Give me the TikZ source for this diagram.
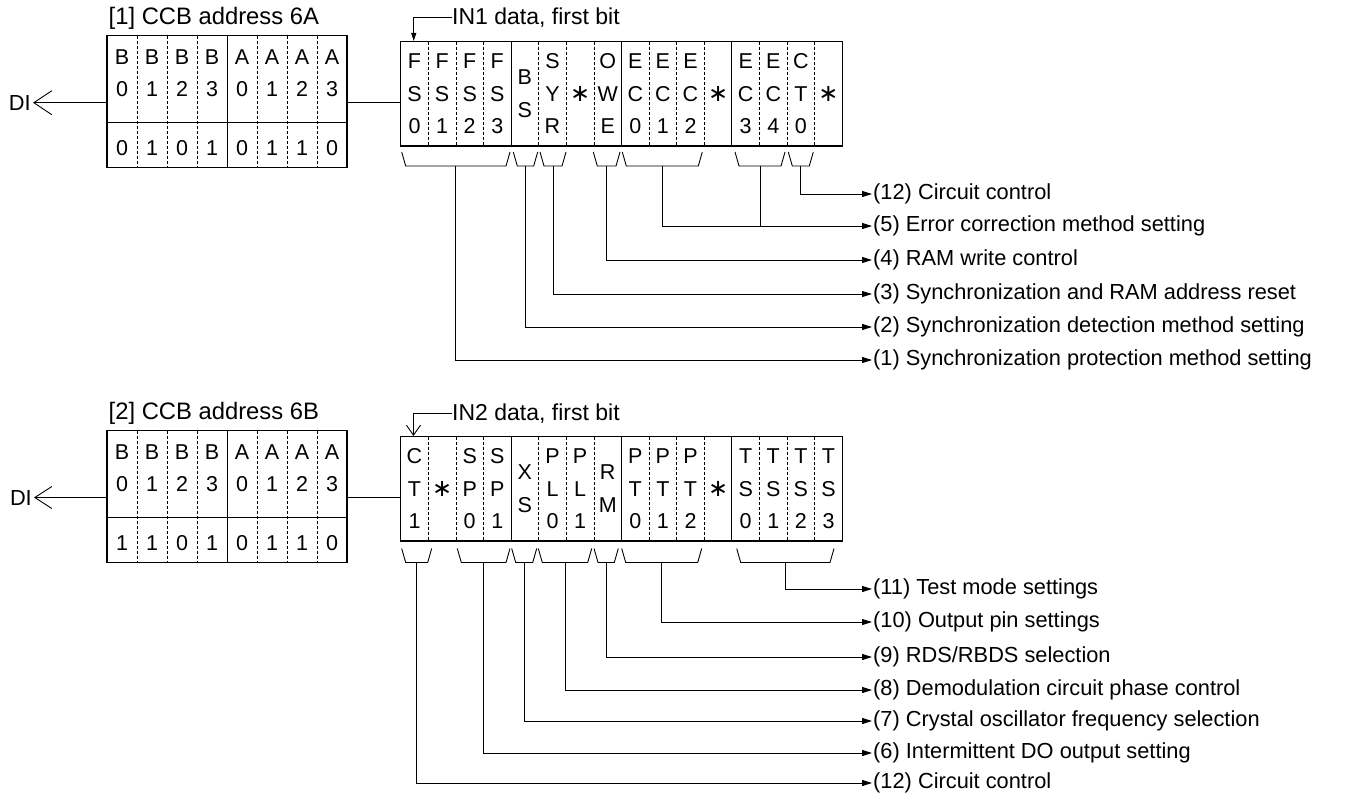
\documentclass[tikz,border=0pt]{standalone}
\usepackage{fontspec}
\setmainfont{Liberation Sans}
\newfontfamily\symfont{DejaVu Sans}
\usetikzlibrary{arrows.meta}
\newcommand{\nobit}{{\symfont\fontsize{24}{24}\selectfont ∗}}
\newcommand{\brk}[4]{%
  \draw[brk] (#2,#4) -- (#2+4,#4+14) -- (#3-4,#4+14) -- (#3,#4);
  \coordinate (#1) at ({(#2+#3)/2},#4+14);}
\tikzset{
  box/.style={draw,line width=1.1pt,inner sep=0pt},
  sep/.style={line width=0.8pt,dash pattern=on 3pt off 2pt},
  grp/.style={line width=1pt},
  bit/.style={align=center,inner sep=0pt,font=\fontsize{21.5}{32.5}\selectfont},
  lab/.style={anchor=west,inner sep=1pt,font=\fontsize{21.8}{26}\selectfont},
  head/.style={anchor=west,inner sep=0pt,font=\fontsize{23}{28}\selectfont},
  arr/.style={line width=0.9pt,-{Triangle[length=10pt,width=6pt]}},
  brk/.style={line width=0.9pt},
}
\begin{document}
\begin{tikzpicture}[x=1pt,y=-1pt]
  \useasboundingbox (0,0) rectangle (1362,796);

  % [1] address 6A and IN1 data
  \node[head,font=\fontsize{23.8}{28}\selectfont] (hdA) at (108.5,18) {[1] CCB address 6A};
  \node[box,minimum width=240pt,minimum height=132pt] (adrA) at (227,101.7) {};
  \draw[grp] (adrA.west |- 0,122.2) -- (adrA.east |- 0,122.2);
  \foreach \i in {1,2,3,5,6,7} \draw[sep] (107+30*\i,35.7) -- ++(0,132);
  \draw[grp] (227,35.7) -- ++(0,132);
  \foreach \t [count=\i from 0] in {{B\\0},{B\\1},{B\\2},{B\\3},{A\\0},{A\\1},{A\\2},{A\\3}}
    \node[bit] (aA\i) at (122+30*\i,73.2) {\t};
  \foreach \t [count=\i from 0] in {0,1,0,1,0,1,1,0}
    \node[bit] (vA\i) at (122+30*\i,148.5) {\t};
  \node[lab,anchor=east,inner sep=2pt] (diA) at (33,102.7) {DI};
  \draw[line width=0.9pt,-{Straight Barb[length=18pt,width=24pt]}] (adrA.west |- diA) -- (diA.east);

  \node[box,minimum width=441.6pt,minimum height=104.5pt] (dataA) at (621.5,93.75) {};
  \draw[line width=0.9pt] (adrA.east |- diA) -- (dataA.west |- diA);
  \foreach \i in {1,2,3,5,6,7,9,10,11,13,14,15} \draw[sep] (400.7+27.6*\i,41.5) -- ++(0,104.5);
  \foreach \i in {4,8,12} \draw[grp] (400.7+27.6*\i,41.5) -- ++(0,104.5);
  \foreach \t [count=\i from 0] in {{F\\S\\0},{F\\S\\1},{F\\S\\2},{F\\S\\3},{B\\S},{S\\Y\\R},{\nobit},{O\\W\\E},
      {E\\C\\0},{E\\C\\1},{E\\C\\2},{\nobit},{E\\C\\3},{E\\C\\4},{C\\T\\0},{\nobit}}
    \node[bit] (dA\i) at (414.5+27.6*\i,93.75) {\t};
  \node[head] (inA) at (452,17.3) {IN1 data, first bit};
  \draw[line width=0.9pt,-{Triangle[length=8pt,width=5pt]}] (inA.west) -| ([xshift=13.6pt]dataA.north west);

  \brk{bA1}{401.7}{510}{152}
  \brk{bA2}{513.3}{537.7}{152}
  \brk{bA3}{540}{566}{152}
  \brk{bA4}{593.3}{620}{152}
  \brk{bA5}{622.3}{702.3}{152}
  \brk{bA6}{735}{785}{152}
  \brk{bA7}{788.3}{813.3}{152}

  \node[lab] (lA12) at (872,194) {(12) Circuit control};
  \node[lab] (lA5) at (872,226) {(5) Error correction method setting};
  \node[lab] (lA4) at (872,260) {(4) RAM write control};
  \node[lab] (lA3) at (872,294) {(3) Synchronization and RAM address reset};
  \node[lab] (lA2) at (872,327) {(2) Synchronization detection method setting};
  \node[lab] (lA1) at (872,360) {(1) Synchronization protection method setting};
  \draw[arr] (bA7) |- (lA12.west);
  \draw[arr] (bA5) |- (lA5.west);
  \draw[brk] (bA6) -- (bA6 |- lA5.west);
  \draw[arr] (bA4) |- (lA4.west);
  \draw[arr] (bA3) |- (lA3.west);
  \draw[arr] (bA2) |- (lA2.west);
  \draw[arr] (bA1) |- (lA1.west);

  % [2] address 6B and IN2 data
  \node[head,font=\fontsize{23.8}{28}\selectfont] (hdB) at (108.5,413) {[2] CCB address 6B};
  \node[box,minimum width=240pt,minimum height=132pt] (adrB) at (227,496.7) {};
  \draw[grp] (adrB.west |- 0,517.2) -- (adrB.east |- 0,517.2);
  \foreach \i in {1,2,3,5,6,7} \draw[sep] (107+30*\i,430.7) -- ++(0,132);
  \draw[grp] (227,430.7) -- ++(0,132);
  \foreach \t [count=\i from 0] in {{B\\0},{B\\1},{B\\2},{B\\3},{A\\0},{A\\1},{A\\2},{A\\3}}
    \node[bit] (aB\i) at (122+30*\i,468.2) {\t};
  \foreach \t [count=\i from 0] in {1,1,0,1,0,1,1,0}
    \node[bit] (vB\i) at (122+30*\i,543.5) {\t};
  \node[lab,anchor=east,inner sep=2pt] (diB) at (34,497.5) {DI};
  \draw[line width=0.9pt,-{Straight Barb[length=17pt,width=22pt]}] (adrB.west |- diB) -- (diB.east);

  \node[box,minimum width=441.6pt,minimum height=104.5pt] (dataB) at (621.5,488.75) {};
  \draw[line width=0.9pt] (adrB.east |- diB) -- (dataB.west |- diB);
  \foreach \i in {1,2,3,5,6,7,9,10,11,13,14,15} \draw[sep] (400.7+27.6*\i,436.5) -- ++(0,104.5);
  \foreach \i in {4,8,12} \draw[grp] (400.7+27.6*\i,436.5) -- ++(0,104.5);
  \foreach \t [count=\i from 0] in {{C\\T\\1},{\nobit},{S\\P\\0},{S\\P\\1},{X\\S},{P\\L\\0},{P\\L\\1},{R\\M},
      {P\\T\\0},{P\\T\\1},{P\\T\\2},{\nobit},{T\\S\\0},{T\\S\\1},{T\\S\\2},{T\\S\\3}}
    \node[bit] (dB\i) at (414.5+27.6*\i,488.75) {\t};
  \node[head] (inB) at (452,413.3) {IN2 data, first bit};
  \draw[line width=0.9pt,-{Straight Barb[length=10pt,width=14pt]}] (inB.west) -| ([xshift=13.3pt]dataB.north west);

  \brk{bB1}{401.7}{431.7}{548.5}
  \brk{bB2}{457.3}{510}{548.5}
  \brk{bB3}{511.7}{536.7}{548.5}
  \brk{bB4}{538.3}{591.7}{548.5}
  \brk{bB5}{594}{618.3}{548.5}
  \brk{bB6}{621.7}{701.7}{548.5}
  \brk{bB7}{736.7}{834}{548.5}

  \node[lab] (lB11) at (872,589) {(11) Test mode settings};
  \node[lab] (lB10) at (872,622) {(10) Output pin settings};
  \node[lab] (lB9) at (872,657) {(9) RDS/RBDS selection};
  \node[lab] (lB8) at (872,690) {(8) Demodulation circuit phase control};
  \node[lab] (lB7) at (872,721) {(7) Crystal oscillator frequency selection};
  \node[lab] (lB6) at (872,753) {(6) Intermittent DO output setting};
  \node[lab] (lB12) at (872,783) {(12) Circuit control};
  \draw[arr] (bB7) |- (lB11.west);
  \draw[arr] (bB6) |- (lB10.west);
  \draw[arr] (bB5) |- (lB9.west);
  \draw[arr] (bB4) |- (lB8.west);
  \draw[arr] (bB3) |- (lB7.west);
  \draw[arr] (bB2) |- (lB6.west);
  \draw[arr] (bB1) |- (lB12.west);
\end{tikzpicture}
\end{document}
